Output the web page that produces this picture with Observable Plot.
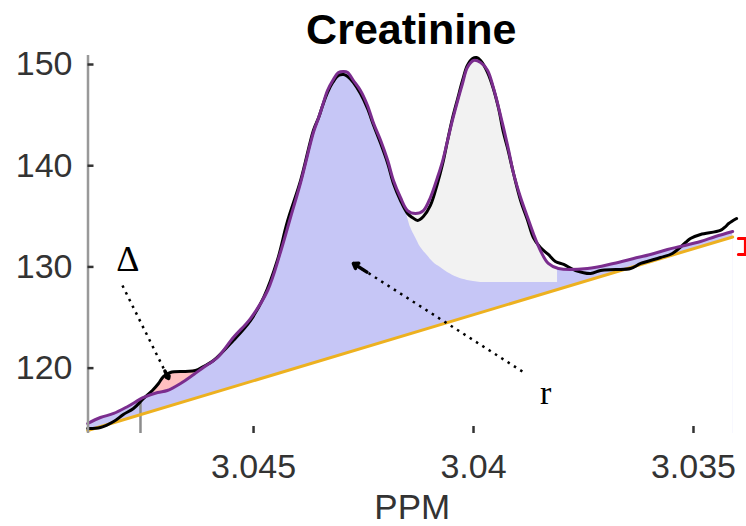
<!DOCTYPE html>
<html><head><meta charset="utf-8">
<script src="https://cdn.jsdelivr.net/npm/d3@7"></script>
<script src="https://cdn.jsdelivr.net/npm/@observablehq/plot@0.6"></script>
<style>html,body{margin:0;padding:0;background:#fff;} #chart{width:746px;height:526px;overflow:hidden}</style>
</head><body><div id="chart"></div>
<script>
const titleText = "Creatinine";
const xLabel = "PPM";
const ppmTicks = [3.045, 3.04, 3.035];
const ppmTickLabels = ["3.045", "3.04", "3.035"];
const intensityTicks = [120, 130, 140, 150];

// measured spectrum (black)
const specPpm = [3.04877,3.04848,3.04818,3.04796,3.04773,3.04750,3.04730,3.04716,3.04705,3.04689,3.04655,3.04632,3.04614,3.04591,3.04546,3.04507,3.04477,3.04446,3.04423,3.04393,3.04364,3.04352,3.04343,3.04332,3.04320,3.04307,3.04295,3.04286,3.04273,3.04257,3.04241,3.04227,3.04211,3.04195,3.04182,3.04166,3.04150,3.04139,3.04127,3.04114,3.04098,3.04082,3.04070,3.04059,3.04048,3.04036,3.04025,3.04014,3.04002,3.03993,3.03984,3.03968,3.03955,3.03943,3.03932,3.03923,3.03909,3.03893,3.03877,3.03864,3.03848,3.03830,3.03814,3.03795,3.03768,3.03734,3.03711,3.03677,3.03643,3.03620,3.03575,3.03548,3.03518,3.03507,3.03484,3.03439,3.03427,3.03420,3.03402];
const specInt = [114.03,114.13,114.72,115.42,116.01,117.00,117.79,118.48,119.17,119.57,119.67,119.76,120.16,120.75,122.73,124.70,126.98,130.63,134.49,138.54,143.48,144.76,145.95,147.23,148.22,148.91,149.01,148.81,148.22,147.13,145.65,143.97,142.19,140.22,138.24,136.56,135.28,134.88,134.59,134.98,136.07,138.24,140.22,142.49,144.66,146.64,148.42,149.90,150.59,150.69,150.40,149.21,147.63,145.65,143.28,141.80,139.23,136.56,134.59,132.91,131.92,131.23,130.54,130.24,129.65,129.35,129.65,129.74,129.84,130.34,130.93,131.33,132.41,132.81,133.20,133.60,133.99,134.29,134.78];

// fitted curve (purple)
const fitPpm = [3.04877,3.04848,3.04818,3.04786,3.04750,3.04718,3.04696,3.04666,3.04636,3.04614,3.04582,3.04546,3.04507,3.04468,3.04439,3.04416,3.04393,3.04364,3.04352,3.04343,3.04332,3.04320,3.04307,3.04295,3.04286,3.04273,3.04257,3.04241,3.04227,3.04211,3.04195,3.04182,3.04166,3.04150,3.04132,3.04114,3.04098,3.04082,3.04070,3.04059,3.04048,3.04036,3.04025,3.04014,3.04000,3.03984,3.03968,3.03955,3.03943,3.03932,3.03920,3.03909,3.03893,3.03877,3.03864,3.03848,3.03830,3.03807,3.03741,3.03682,3.03636,3.03598,3.03559,3.03530,3.03484,3.03450,3.03411];
const fitInt = [114.53,115.12,115.52,116.21,117.10,117.59,117.79,118.48,119.37,120.06,121.05,123.02,124.90,127.67,131.42,134.88,138.34,143.28,144.76,145.95,147.43,148.42,149.21,149.31,149.21,148.42,147.43,145.95,144.17,142.49,140.51,138.54,136.86,135.57,135.28,135.57,136.86,138.83,140.51,142.49,144.47,146.44,148.12,149.70,150.40,150.20,149.41,147.73,145.75,143.78,141.50,139.23,136.86,134.88,133.30,131.62,130.34,129.84,129.84,130.34,130.83,131.23,131.72,132.02,132.51,133.00,133.50];

// linear baseline (orange)
const basePpm = [3.04877, 3.03411];
const baseInt = [113.84, 132.96];

// second component region (light gray)
const grayPpm = [3.04155,3.04143,3.04132,3.04120,3.04105,3.04091,3.04075,3.04059,3.04036,3.04014,3.04000,3.03984,3.03968,3.03955,3.03932,3.03909,3.03893,3.03877,3.03864,3.03848,3.03830,3.03809];
const grayLow = [135.77,133.89,132.91,131.92,131.13,130.44,129.94,129.45,128.95,128.66,128.56,128.46,128.46,128.46,128.46,128.46,128.46,128.46,128.46,128.46,128.46,128.46];
const grayHigh = [135.77,135.38,135.28,135.38,136.27,137.75,139.82,142.49,146.44,149.70,150.40,150.20,149.41,147.73,143.78,139.23,136.86,134.88,133.30,131.62,130.34,129.94];

// residual region Δ (pink)
const pinkPpm = [3.04741,3.04730,3.04716,3.04705,3.04689,3.04666,3.04643,3.04627,3.04621];
const pinkLow = [117.29,117.49,117.59,117.69,117.99,118.48,119.17,119.67,119.96];
const pinkHigh = [117.29,117.79,118.48,119.17,119.57,119.67,119.76,119.86,119.96];

// annotations
const annoLabels = ["Δ", "r"];
const annoPpm = [3.04786, 3.03836];
const annoInt = [130.78, 117.49];
const arrowFromPpm = [3.04798, 3.03889];
const arrowFromInt = [128.16, 119.67];
const arrowToPpm = [3.04693, 3.04273];
const arrowToInt = [118.97, 130.34];

// red bracket at right edge
const bracketPpm = [3.03398, 3.03382, 3.03382, 3.03398];
const bracketInt = [132.81, 132.81, 131.23, 131.23];

// gray bound marker
const markerPpm = [3.04757];
const markerTop = [116.50];

const xDomain = [3.048763, 3.033795];
const yDomain = [113.54, 150.89];

const spec = specPpm.map((x, i) => ({x, y: specInt[i]}));
const fit = fitPpm.map((x, i) => ({x, y: fitInt[i]}));
const base = basePpm.map((x, i) => ({x, y: baseInt[i]}));
const gray = grayPpm.map((x, i) => ({x, lo: grayLow[i], hi: grayHigh[i]}));
const pink = pinkPpm.map((x, i) => ({x, lo: pinkLow[i], hi: pinkHigh[i]}));
const annos = annoLabels.map((t, i) => ({t, x: annoPpm[i], y: annoInt[i]}));
const arrows = arrowFromPpm.map((fx, i) => ({fx, fy: arrowFromInt[i], tx: arrowToPpm[i], ty: arrowToInt[i]}));
const bracket = bracketPpm.map((x, i) => ({x, y: bracketInt[i]}));
const markers = markerPpm.map((x, i) => ({x, top: markerTop[i]}));
const yBottom = yDomain[0];

const chart = Plot.plot({
  width: 746, height: 526,
  marginLeft: 87.5, marginRight: 0, marginTop: 55, marginBottom: 93,
  style: {fontFamily: "'Liberation Sans', Arial, sans-serif", background: "white", overflow: "visible", color: "#333"},
  x: {domain: xDomain},
  y: {domain: yDomain},
  marks: [
    Plot.areaY(fit, {x: "x", y1: () => yBottom, y2: "y", fill: "#c6c6f6", curve: "catmull-rom"}),
    Plot.areaY(base, {x: "x", y1: () => yBottom, y2: "y", fill: "white"}),
    Plot.areaY(gray, {x: "x", y1: "lo", y2: "hi", fill: "#f2f2f2", curve: "catmull-rom"}),
    Plot.areaY(pink, {x: "x", y1: "lo", y2: "hi", fill: "#ffc0c0", curve: "catmull-rom"}),
    Plot.ruleX(markers, {x: "x", y1: () => yBottom, y2: "top", stroke: "#8c8c8c", strokeWidth: 2.5}),
    Plot.line(base, {x: "x", y: "y", stroke: "#edb120", strokeWidth: 3}),
    Plot.line(spec, {x: "x", y: "y", stroke: "black", strokeWidth: 3, curve: "catmull-rom"}),
    Plot.line(fit, {x: "x", y: "y", stroke: "#7b2d8e", strokeWidth: 3, curve: "catmull-rom"}),
    Plot.link(arrows, {x1: "fx", y1: "fy", x2: "tx", y2: "ty", stroke: "black", strokeWidth: 2.5, strokeDasharray: "2.5,5"}),
    Plot.arrow(arrows, {x1: d => d.tx + (d.fx - d.tx) * 0.08, y1: d => d.ty + (d.fy - d.ty) * 0.08, x2: "tx", y2: "ty", stroke: "black", strokeWidth: 3.5, headLength: 14, headAngle: 70}),
    Plot.text(annos, {x: "x", y: "y", text: "t", fontFamily: "'Liberation Serif', serif", fontSize: d => d.t === "r" ? 34 : 36, fill: "black", lineAnchor: "middle", textAnchor: "middle"}),
    Plot.line(bracket, {x: "x", y: "y", stroke: "red", strokeWidth: 3}),
    Plot.ruleX([xDomain[0]], {stroke: "#999", strokeWidth: 2.5}),
    Plot.tickY(intensityTicks, {y: d => d, insetRight: 652.5, stroke: "#333", strokeWidth: 2.5}),
    Plot.tickX(ppmTicks, {x: d => d, insetTop: 371, stroke: "#333", strokeWidth: 2.5}),
    Plot.axisY(intensityTicks, {tickSize: 0, tickPadding: 15.5, fontSize: 34, fill: "#333", tickFormat: d => String(d)}),
    Plot.axisX(ppmTicks, {tickSize: 0, tickPadding: 20, fontSize: 34, fill: "#333", tickFormat: d => ppmTickLabels[ppmTicks.indexOf(d)]}),
    Plot.text([titleText], {frameAnchor: "top", lineAnchor: "top", dy: -42, dx: -6, fontSize: 43, fontWeight: "bold", fill: "black"}),
    Plot.text([xLabel], {frameAnchor: "bottom", lineAnchor: "top", dy: 61, dx: -5, fontSize: 35, fill: "#333"})
  ]
});
document.getElementById("chart").appendChild(chart);
</script>
</body></html>
